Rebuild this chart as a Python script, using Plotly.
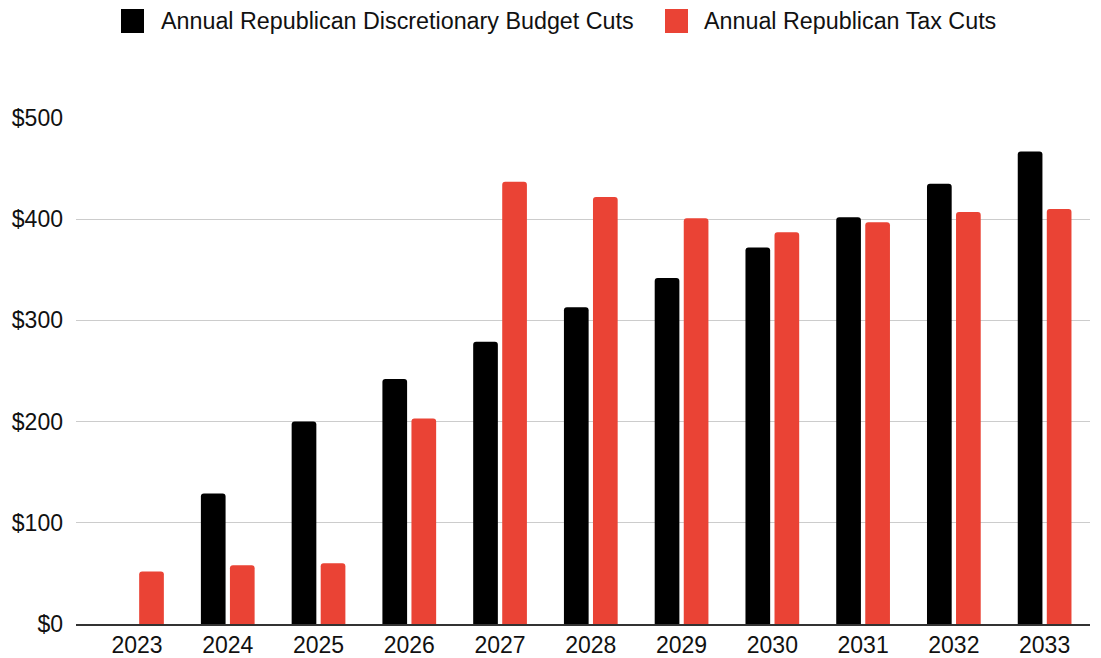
import plotly.graph_objects as go

years = ["2023", "2024", "2025", "2026", "2027", "2028", "2029", "2030", "2031", "2032", "2033"]
budget_cuts = [0, 129, 200, 242, 279, 313, 342, 372, 402, 435, 467]
tax_cuts = [52, 58, 60, 203, 437, 422, 401, 387, 397, 407, 410]
y_ticks = [0, 100, 200, 300, 400, 500]
y_tick_labels = ["$0", "$100", "$200", "$300", "$400", "$500"]
series_names = ["Annual Republican Discretionary Budget Cuts", "Annual Republican Tax Cuts"]
series_colors = ["#000000", "#EA4335"]

FONT = "Liberation Sans, Arial, sans-serif"
TXT = "#111111"

# layout geometry (pixels)
W, H = 1101, 658
ML, MR, MT, MB = 76, 11, 118, 34
PW, PH = W - ML - MR, H - MT - MB


def px_x(px):
    return (px - ML) / PW


def px_y(py):
    return (H - MB - py) / PH


fig = go.Figure()
for name, vals, col in zip(series_names, [budget_cuts, tax_cuts], series_colors):
    fig.add_trace(go.Bar(x=years, y=vals, name=name, showlegend=False,
                         marker=dict(color=col, line=dict(width=0))))

# custom legend (large rounded swatches as in the reference)
legend_swatch_x = [121, 665]
legend_text_x = [159, 702]
for name, col, sx, tx in zip(series_names, series_colors, legend_swatch_x, legend_text_x):
    fig.add_shape(type="rect", xref="paper", yref="paper",
                  x0=px_x(sx), x1=px_x(sx + 23), y0=px_y(33), y1=px_y(9),
                  fillcolor=col, line=dict(width=0), layer="above")
    fig.add_annotation(xref="paper", yref="paper", x=px_x(tx), y=px_y(21),
                       xanchor="left", yanchor="middle", text=name, showarrow=False,
                       font=dict(family=FONT, size=23.3, color=TXT))

fig.update_layout(
    width=W, height=H,
    margin=dict(l=ML, r=MR, t=MT, b=MB, autoexpand=False),
    paper_bgcolor="white", plot_bgcolor="white",
    barmode="group", bargap=0.36, bargroupgap=0.15, barcornerradius=3,
    font=dict(family=FONT, size=23, color=TXT),
    showlegend=False,
    xaxis=dict(type="category", range=[-0.672, 10.5], showgrid=False,
               showline=True, linecolor="#333333", linewidth=1.5,
               ticks="", tickfont=dict(size=23, color=TXT)),
    yaxis=dict(range=[0, 500], tickvals=y_ticks, ticktext=y_tick_labels,
               showgrid=True, gridcolor="#cccccc", gridwidth=1,
               zeroline=False, ticks="", ticklabelstandoff=12,
               tickfont=dict(size=23, color=TXT)),
)

fig.write_html("out.html")
